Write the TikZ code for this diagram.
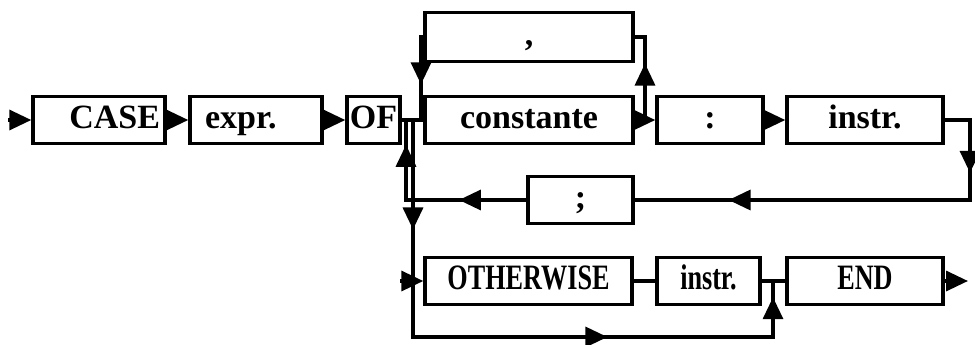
\documentclass[tikz,border=0pt]{standalone}
\usepackage{fontspec}
\setmainfont{Liberation Serif}
\usepackage{graphicx}
\usetikzlibrary{arrows.meta,decorations.markings}
\tikzset{
  box/.style={draw, line width=3.4bp, minimum height=47bp, inner sep=0pt,
    text height=23bp, text depth=6bp,
    font=\fontsize{34bp}{37bp}\selectfont\bfseries},
  conn/.style={line width=3.4bp, line cap=rect},
  endarrow/.style={conn, -{Triangle[length=22bp,width=20bp]}},
  arrowat/.style={conn, postaction={decorate}, decoration={markings,
    mark=at position #1 with {\arrow{Triangle[length=22bp,width=20bp]}}}},
}
\newcommand{\cond}[1]{\scalebox{0.77}[1.05]{#1}}
\begin{document}
\begin{tikzpicture}[x=1bp,y=-1bp]
\fill[white] (0,0) rectangle (975,344);
\useasboundingbox (0,0) rectangle (975,344);
% nodes
\node[box, text width=122bp, inner xsep=5bp, align=right] (CASE) at (99,120) {CASE};
\node[box, text width=102bp, inner xsep=15bp, align=left] (expr) at (256,120) {expr.};
\node[box, minimum width=53bp] (OF) at (373.5,120) {OF};
\node[box, minimum width=208bp, minimum height=49bp] (comma) at (529,37) {,};
\node[box, minimum width=208bp] (const) at (529,120) {constante};
\node[box, minimum width=106bp] (colon) at (710,120) {:};
\node[box, minimum width=156bp] (instrA) at (865,120) {instr.};
\node[box, minimum width=105bp] (semi) at (580.5,200) {;};
\node[box, minimum width=207bp] (other) at (528.5,281) {\cond{OTHERWISE}};
\node[box, minimum width=103bp] (instrB) at (708.5,281) {\cond{instr.}};
\node[box, minimum width=156bp] (END) at (865,281) {\cond{END}};
% coordinates
\coordinate (start) at (10,120);
\coordinate (j1) at (406,120);
\coordinate (j2) at (413,120);
\coordinate (j3) at (421,120);
\coordinate (cr) at (645,120);
\coordinate (crt) at (645,37);
\coordinate (cl) at (421,37);
\coordinate (r1) at (970,120);
\coordinate (r2) at (970,200);
\coordinate (l2) at (406,200);
\coordinate (d1) at (413,281);
\coordinate (d2) at (413,337);
\coordinate (b2) at (773,337);
\coordinate (b1) at (773,281);
\coordinate (exit) at (968,281);
% connectors
\draw[endarrow] (start) -- (CASE.west);
\draw[endarrow] (CASE) -- (expr);
\draw[endarrow] (expr) -- (OF);
\draw[conn] (OF) -- (const);
\draw[conn] (const.east) -- (cr);
\draw[arrowat=0.68] (cr) -- (crt);
\draw[conn] (crt) -- (comma.east);
\draw[conn] (comma.west) -- (cl);
\draw[arrowat=0.57] (cl) -- (j3);
\draw[endarrow] (const) -- (colon);
\draw[endarrow] (colon) -- (instrA);
\draw[conn] (instrA.east) -- (r1);
\draw[arrowat=0.66] (r1) -- (r2);
\draw[arrowat=0.72] (r2) -- (semi.east);
\draw[arrowat=0.56] (semi.west) -- (l2);
\draw[arrowat=0.69] (l2) -- (j1);
\draw[arrowat=0.68] (j2) -- (d1);
\draw[conn] (d1) -- (d2);
\draw[endarrow] (d1) -- (other.west);
\draw[arrowat=0.54] (d2) -- (b2);
\draw[arrowat=0.71] (b2) -- (b1);
\draw[conn] (other) -- (instrB);
\draw[conn] (instrB) -- (END);
\draw[endarrow] (END) -- (exit);
\end{tikzpicture}
\end{document}
